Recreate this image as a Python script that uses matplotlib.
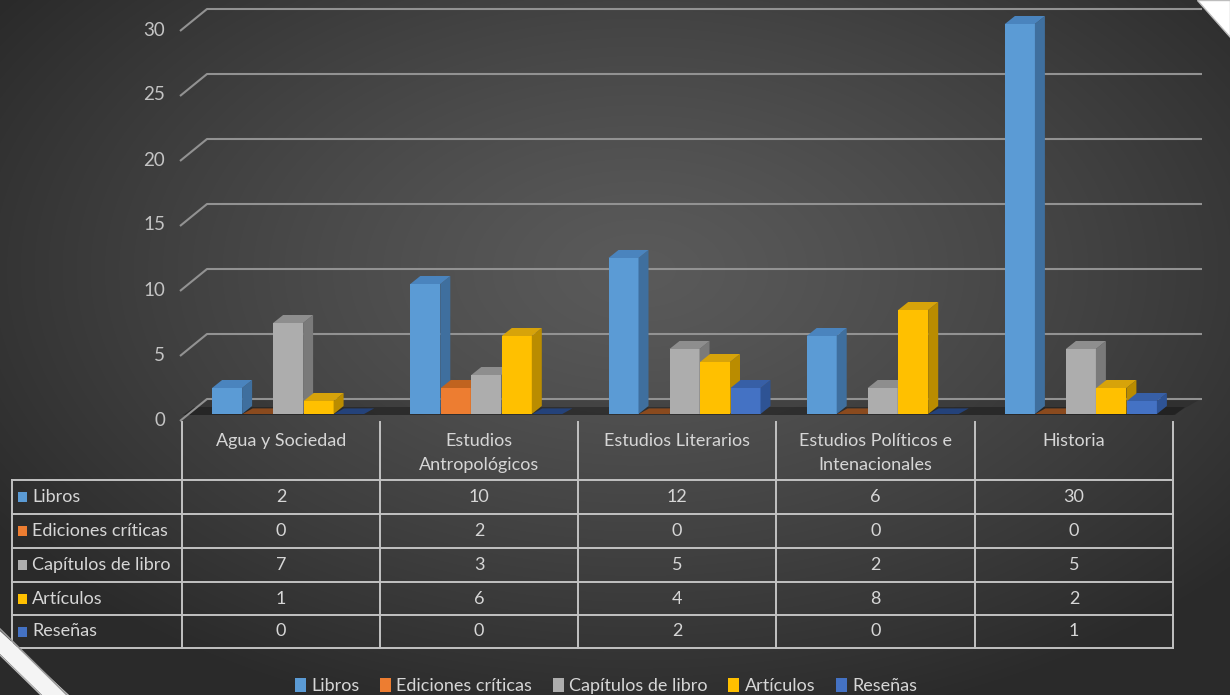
import numpy as np
import matplotlib
matplotlib.use('Agg')
import matplotlib.pyplot as plt
from matplotlib.patches import Polygon, Rectangle, Patch

# ---------------- data ----------------
categories = ["Agua y Sociedad", "Estudios\nAntropológicos", "Estudios Literarios",
              "Estudios Políticos e\nIntenacionales", "Historia"]
series = ["Libros", "Ediciones críticas", "Capítulos de libro", "Artículos", "Reseñas"]
libros = [2, 10, 12, 6, 30]
ediciones = [0, 2, 0, 0, 0]
capitulos = [7, 3, 5, 2, 5]
articulos = [1, 6, 4, 8, 2]
resenas = [0, 0, 2, 0, 1]
yticks = [0, 5, 10, 15, 20, 25, 30]
values = [libros, ediciones, capitulos, articulos, resenas]

front_cols = ["#5B9BD5", "#ED7D31", "#ADADAD", "#FFC000", "#4472C4"]
side_cols = ["#3F6F9E", "#A9561F", "#7A7A7A", "#BA8C00", "#2E5394"]
top_cols = ["#4A84BE", "#C0631F", "#8E8E8E", "#D7A30A", "#375FA6"]
zero_cols = ["#2F5A86", "#8A4A1E", "#6A6A6A", "#9A7600", "#24427A"]

plt.rcParams['font.family'] = ['Lato', 'DejaVu Sans']

W, H = 1230, 695
fig = plt.figure(figsize=(W / 100, H / 100), dpi=100)

# ---------------- background ----------------
bg = fig.add_axes([0, 0, 1, 1], zorder=0)
yy, xx = np.mgrid[0:H, 0:W]
r = np.sqrt(((xx - 640) / 780.0) ** 2 + ((yy - 270) / 470.0) ** 2)
r = np.clip(r, 0, 1)
shade = (0x5A - (0x5A - 0x2A) * r ** 1.25) / 255.0
bg.imshow(np.dstack([shade, shade, shade]), extent=[0, W, H, 0], aspect='auto')
bg.set_xlim(0, W)
bg.set_ylim(H, 0)
bg.axis('off')

# ---------------- main 3D-ish bar axes ----------------
UX = (1173 - 182) / 5.0   # px per category
UY = 13.0                 # px per unit
ax = fig.add_axes([182 / W, 1 - 414 / H, (1173 - 182) / W, 414 / H], zorder=2)
ax.set_xlim(-0.5, 4.5)
ax.set_ylim(0, 414 / UY)
ax.axis('off')
ax.patch.set_alpha(0)

grid_c = "#929292"
# floor
floor = Polygon([(-0.5, -1 / UY), (4.5, -1 / UY), (4.5 + 26 / UX, 14 / UY), (-0.5 + 26 / UX, 14 / UY)],
                closed=True, facecolor='black', alpha=0.14, edgecolor='none', zorder=1, clip_on=False)
ax.add_patch(floor)
band = Polygon([(-0.5 + 2 / UX, -1 / UY), (4.5 + 2 / UX, -1 / UY), (4.5 + 12 / UX, 7 / UY), (-0.5 + 12 / UX, 7 / UY)],
               closed=True, facecolor='black', alpha=0.28, edgecolor='none', zorder=1.5, clip_on=False)
ax.add_patch(band)

for v in yticks:
    xs = [-0.5 - 2 / UX, -0.5 + 25 / UX, 4.5 + 29 / UX]
    ys = [v - 7 / UY, v + 15 / UY, v + 15 / UY]
    ax.plot(xs, ys, color=grid_c, lw=1.5, zorder=2, clip_on=False, solid_capstyle='butt')
    ax.text(-0.5 - 17 / UX, v - 6 / UY, str(v), ha='right', va='center', fontsize=13.5,
            color='#c4c4c4', clip_on=False)

bw = 30 / UX
ddx = 10 / UX
ddy = 8 / UY
x = np.arange(len(categories))
for j, vals in enumerate(values):
    off = (-54 + 30.5 * j) / UX
    xpos = x + off
    bars = ax.bar(xpos, vals, width=bw, color=front_cols[j], edgecolor='none', zorder=3 + j * 0.1)
    for b, h in zip(bars, vals):
        x0 = b.get_x()
        x1 = x0 + b.get_width()
        zo = 3 + j * 0.1
        if h > 0:
            side = Polygon([(x1, 0), (x1 + ddx, ddy), (x1 + ddx, h + ddy), (x1, h)], closed=True,
                           facecolor=side_cols[j], edgecolor='none', zorder=zo)
            top = Polygon([(x0, h), (x0 + ddx, h + ddy), (x1 + ddx, h + ddy), (x1, h)], closed=True,
                          facecolor=top_cols[j], edgecolor='none', zorder=zo)
            ax.add_patch(side)
            ax.add_patch(top)
        else:
            top = Polygon([(x0, 0), (x0 + ddx, ddy * 0.7), (x1 + ddx, ddy * 0.7), (x1, 0)], closed=True,
                          facecolor=zero_cols[j], edgecolor='none', zorder=zo)
            ax.add_patch(top)

# ---------------- table (pixel coords) ----------------
pix = fig.add_axes([0, 0, 1, 1], zorder=3)
pix.set_xlim(0, W)
pix.set_ylim(H, 0)
pix.axis('off')
pix.patch.set_alpha(0)

line_c = "#c2c2c2"
txt_c = "#d6d6d6"
cols = [182, 380, 578, 776, 975, 1173]
rows = [480, 514, 548, 582, 615, 648]
for cx in cols:
    pix.plot([cx, cx], [422, rows[-1]], color=line_c, lw=1.4, zorder=4)
pix.plot([12, 12], [rows[0], rows[-1]], color=line_c, lw=1.4, zorder=4)
for ry in rows:
    pix.plot([12, cols[-1]], [ry, ry], color=line_c, lw=1.4, zorder=4)

for i, c in enumerate(categories):
    cx = (cols[i] + cols[i + 1]) / 2
    pix.text(cx, 433, c, ha='center', va='top', fontsize=13, color=txt_c, linespacing=1.6, zorder=5)

for j, s in enumerate(series):
    cy = (rows[j] + rows[j + 1]) / 2
    pix.add_patch(Rectangle((18, cy - 5), 9, 10, facecolor=front_cols[j], edgecolor='none', zorder=5))
    pix.text(32, cy, s, ha='left', va='center', fontsize=13, color=txt_c, zorder=5)
    for i, v in enumerate(values[j]):
        cx = (cols[i] + cols[i + 1]) / 2
        pix.text(cx, cy, str(v), ha='center', va='center', fontsize=13, color=txt_c, zorder=5)

# ---------------- legend ----------------
handles = [Patch(facecolor=front_cols[j], edgecolor='none', label=series[j]) for j in range(5)]
fig.legend(handles=handles, loc='center', bbox_to_anchor=(606 / W, 1 - 686 / H), ncol=5,
           frameon=False, fontsize=13, labelcolor=txt_c, handlelength=0.6, handleheight=0.8,
           handletextpad=0.3, columnspacing=1.15)

# ---------------- corner artifacts ----------------
pix.add_patch(Polygon([(1197, 0), (1230, 0), (1230, 37)], closed=True, facecolor='white',
                      edgecolor='#bdbdbd', lw=1.0, zorder=20))
pix.add_patch(Polygon([(0, 631), (0, 654), (42, 695), (69, 695)], closed=True, facecolor='#f4f4f4',
                      edgecolor='none', zorder=20))
pix.plot([0, 69], [629, 697], color='#9a9a9a', lw=1.2, zorder=21)
pix.plot([0, 42], [655, 696], color='#bbbbbb', lw=1.0, zorder=21)

fig.savefig('out.png', dpi=100)
